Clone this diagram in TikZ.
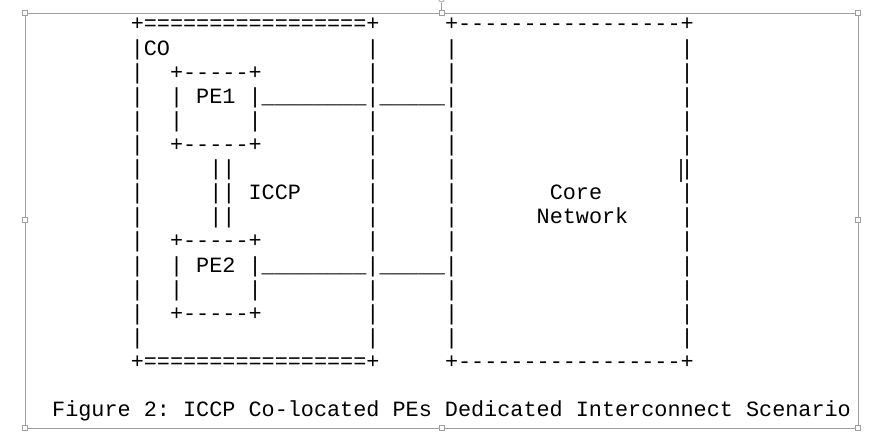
\documentclass[tikz,border=0pt]{standalone}
\usepackage{fontspec}
\setmonofont{Liberation Mono}
\begin{document}
\begin{tikzpicture}[x=1pt,y=-1pt,
  row/.style={anchor=base west, inner sep=0pt, text=black,
    font=\ttfamily\fontsize{21.82pt}{24pt}\selectfont},
  frame/.style={draw=gray!75, line width=0.8pt},
  handle/.style={rectangle, draw=gray!75, fill=white, line width=0.6pt,
    minimum size=5pt, inner sep=0pt}]
\useasboundingbox (0,0) rectangle (886,434);
% selection frame
\draw[frame] (25,13) rectangle (858,428);
\draw[frame] (441.5,13) -- (441.5,3);
\draw[frame] (441.5,-1) circle (3);
\foreach \n/\x/\y in {h1/25/13, h2/441.5/13, h3/858/13, h4/25/220, h5/858/220,
                      h6/25/428, h7/441.5/428, h8/858/428}
  \node[handle] (\n) at (\x,\y) {};
% ascii diagram
\node[row] (r0)  at (52,30.9)  {~~~~~~+=================+~~~~~+-----------------+};
\node[row] (r1)  at (52,55.0)  {~~~~~~|CO~~~~~~~~~~~~~~~|~~~~~|~~~~~~~~~~~~~~~~~|};
\node[row] (r2)  at (52,79.1)  {~~~~~~|~~+-----+~~~~~~~~|~~~~~|~~~~~~~~~~~~~~~~~|};
\node[row] (r3)  at (52,103.2) {~~~~~~|~~|~PE1~|\_\_\_\_\_\_\_\_|\_\_\_\_\_|~~~~~~~~~~~~~~~~~|};
\node[row] (r4)  at (52,127.3) {~~~~~~|~~|~~~~~|~~~~~~~~|~~~~~|~~~~~~~~~~~~~~~~~|};
\node[row] (r5)  at (52,151.5) {~~~~~~|~~+-----+~~~~~~~~|~~~~~|~~~~~~~~~~~~~~~~~|};
\node[row] (r6)  at (52,175.6) {~~~~~~|~~~~~||~~~~~~~~~~|~~~~~|~~~~~~~~~~~~~~~~~|};
\node[row] (r7)  at (52,199.7) {~~~~~~|~~~~~||~ICCP~~~~~|~~~~~|~~~~~~~Core~~~~~~|};
\node[row] (r8)  at (52,223.8) {~~~~~~|~~~~~||~~~~~~~~~~|~~~~~|~~~~~~Network~~~~|};
\node[row] (r9)  at (52,247.9) {~~~~~~|~~+-----+~~~~~~~~|~~~~~|~~~~~~~~~~~~~~~~~|};
\node[row] (r10) at (52,272.0) {~~~~~~|~~|~PE2~|\_\_\_\_\_\_\_\_|\_\_\_\_\_|~~~~~~~~~~~~~~~~~|};
\node[row] (r11) at (52,296.1) {~~~~~~|~~|~~~~~|~~~~~~~~|~~~~~|~~~~~~~~~~~~~~~~~|};
\node[row] (r12) at (52,320.2) {~~~~~~|~~+-----+~~~~~~~~|~~~~~|~~~~~~~~~~~~~~~~~|};
\node[row] (r13) at (52,344.3) {~~~~~~|~~~~~~~~~~~~~~~~~|~~~~~|~~~~~~~~~~~~~~~~~|};
\node[row] (r14) at (52,368.4) {~~~~~~+=================+~~~~~+-----------------+};
\node[row] (r16) at (52,416.7) {Figure 2: ICCP Co-located PEs Dedicated Interconnect Scenario};
% text caret
\draw[gray!40!black, line width=1.4pt] (681,159) -- (681,182);
\end{tikzpicture}
\end{document}
